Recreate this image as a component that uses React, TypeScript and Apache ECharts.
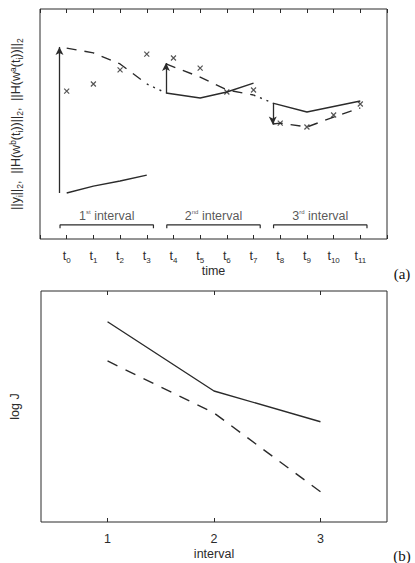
import React, { useEffect, useRef } from 'react';
import * as echarts from 'echarts';

// ---- panel (a) data ----
const timeTicks = [0, 1, 2, 3, 4, 5, 6, 7, 8, 9, 10, 11];
const observations = [6.43, 6.74, 7.35, 8.04, 7.87, 7.43, 6.39, 6.48, 5.04, 4.87, 5.39, 5.87];

const bg1X = [0, 1, 2, 3];
const bg1Y = [2.0, 2.3, 2.52, 2.78];
const an1X = [0, 1, 2, 3];
const an1Y = [8.3, 8.09, 7.61, 6.74];
const fc1X = [3, 3.72];
const fc1Y = [6.74, 6.35];
const bg2X = [3.72, 5, 6, 7];
const bg2Y = [6.35, 6.13, 6.39, 6.78];
const an2X = [3.72, 5, 6, 7];
const an2Y = [7.61, 7.04, 6.48, 6.26];
const fc2X = [7, 7.72];
const fc2Y = [6.26, 5.91];
const bg3X = [7.72, 9, 11];
const bg3Y = [5.91, 5.52, 6.0];
const an3X = [7.72, 8, 9, 10, 11];
const an3Y = [5.0, 5.04, 4.87, 5.3, 5.7];

const arrowX = [-0.27, 3.72, 7.72];
const arrowFrom = [2.0, 6.35, 5.91];
const arrowTo = [8.35, 7.65, 4.98];

const intervalStart = [-0.25, 3.75, 7.75];
const intervalEnd = [3.25, 7.25, 11.25];
const intervalNum = ['1', '2', '3'];
const intervalOrd = ['st', 'nd', 'rd'];
const bracketTop = 0.61;
const bracketFoot = 0.47;
const bracketLabelY = 0.98;

// ---- panel (b) data ----
const intervals = [1, 2, 3];
const logJSolid = [8.67, 5.67, 4.34];
const logJDashed = [6.97, 4.72, 1.31];

const INK = '#2b2b2b';
const FONT = 'Liberation Sans';

const zip = (xs: number[], ys: number[]) => xs.map((x, i) => [x, ys[i]]);

function lineSeries(xs: number[], ys: number[], type: any, grid = 0) {
  return {
    type: 'line',
    xAxisIndex: grid === 0 ? 0 : 2,
    yAxisIndex: grid,
    data: zip(xs, ys),
    symbol: 'none',
    silent: true,
    lineStyle: { color: INK, width: 1.4, type },
  };
}

export default function App() {
  const ref = useRef<HTMLDivElement>(null);
  useEffect(() => {
    const chart = echarts.init(ref.current!, null, { renderer: 'svg' });
    const dashed = [10, 8];
    const dotted = [2, 5];

    const series: any[] = [
      {
        ...lineSeries(bg1X, bg1Y, 'solid'),
        markLine: {
          silent: true,
          symbol: ['none', 'arrow'],
          symbolSize: [6, 8],
          label: { show: false },
          lineStyle: { color: INK, width: 1.3, type: 'solid' },
          data: arrowX.map((x, i) => [
            { coord: [x, arrowFrom[i]] },
            { coord: [x, arrowTo[i]] },
          ]),
        },
      },
      lineSeries(an1X, an1Y, dashed),
      lineSeries(fc1X, fc1Y, dotted),
      lineSeries(bg2X, bg2Y, 'solid'),
      lineSeries(an2X, an2Y, dashed),
      lineSeries(fc2X, fc2Y, dotted),
      lineSeries(bg3X, bg3Y, 'solid'),
      lineSeries(an3X, an3Y, dashed),
      {
        type: 'scatter',
        xAxisIndex: 0,
        yAxisIndex: 0,
        silent: true,
        data: zip(timeTicks, observations),
        symbol: 'path://M0,0L10,10M10,0L0,10',
        symbolSize: 5,
        itemStyle: { color: 'none', borderColor: INK, borderWidth: 1.2 },
      },
      ...intervalStart.map((s, i) => ({
        type: 'line',
        xAxisIndex: 0,
        yAxisIndex: 0,
        silent: true,
        symbol: 'none',
        data: [
          [s, bracketFoot],
          [s, bracketTop],
          [intervalEnd[i], bracketTop],
          [intervalEnd[i], bracketFoot],
        ],
        lineStyle: { color: INK, width: 1.2 },
      })),
      {
        type: 'scatter',
        xAxisIndex: 0,
        yAxisIndex: 0,
        silent: true,
        symbolSize: 0,
        data: intervalStart.map((s, i) => ({
          value: [(s + intervalEnd[i]) / 2, bracketLabelY],
          name: intervalNum[i] + '|' + intervalOrd[i],
        })),
        label: {
          show: true,
          position: 'inside',
          color: INK,
          fontFamily: FONT,
          fontSize: 12,
          lineHeight: 14,
          formatter: (p: any) => {
            const [n, o] = p.name.split('|');
            return `{n|${n}}{o|${o}}{n| interval}`;
          },
          rich: {
            n: { fontSize: 12.5, lineHeight: 14, fontFamily: FONT, color: INK },
            o: { fontSize: 6, lineHeight: 8, verticalAlign: 'top', fontFamily: FONT, color: INK },
          },
        },
      },
      lineSeries(intervals, logJSolid, 'solid', 1),
      lineSeries(intervals, logJDashed, [11, 9], 1),
    ];

    const tickStyle = { show: true, inside: true, length: 4, lineStyle: { color: INK, width: 1 } };

    chart.setOption({
      animation: false,
      textStyle: { fontFamily: FONT },
      grid: [
        { left: 37, top: 9, width: 350, height: 230, show: true, borderColor: INK, borderWidth: 1, backgroundColor: 'transparent' },
        { left: 37, top: 291, width: 350, height: 231, show: true, borderColor: INK, borderWidth: 1, backgroundColor: 'transparent' },
      ],
      xAxis: [
        {
          type: 'value',
          gridIndex: 0,
          position: 'bottom',
          min: -1,
          max: 12,
          interval: 1,
          axisLine: { show: false },
          axisTick: tickStyle,
          splitLine: { show: false },
          axisLabel: {
            margin: 9,
            color: INK,
            fontFamily: FONT,
            formatter: (v: number) => (v >= 0 && v <= 11 ? `{t|t}{s|${v}}` : ''),
            rich: {
              t: { fontSize: 12.5, lineHeight: 16, fontFamily: FONT, color: INK },
              s: { fontSize: 8, lineHeight: 9, verticalAlign: 'bottom', fontFamily: FONT, color: INK },
            },
          },
          name: 'time',
          nameLocation: 'middle',
          nameGap: 25,
          nameTextStyle: { fontSize: 12.5, color: INK, fontFamily: FONT },
        },
        {
          type: 'value',
          gridIndex: 0,
          position: 'top',
          min: -1,
          max: 12,
          interval: 1,
          axisLine: { show: false },
          axisTick: tickStyle,
          axisLabel: { show: false },
          splitLine: { show: false },
        },
        {
          type: 'value',
          gridIndex: 1,
          position: 'bottom',
          min: 0.375,
          max: 3.625,
          axisLine: { show: false },
          axisTick: { ...tickStyle, customValues: intervals },
          splitLine: { show: false },
          axisLabel: { customValues: intervals, margin: 10, fontSize: 12.5, color: INK, fontFamily: FONT },
          name: 'interval',
          nameLocation: 'middle',
          nameGap: 25,
          nameTextStyle: { fontSize: 12.5, color: INK, fontFamily: FONT },
        },
        {
          type: 'value',
          gridIndex: 1,
          position: 'top',
          min: 0.375,
          max: 3.625,
          axisLine: { show: false },
          axisTick: { ...tickStyle, customValues: intervals },
          axisLabel: { show: false },
          splitLine: { show: false },
        },
      ],
      yAxis: [
        {
          type: 'value',
          gridIndex: 0,
          min: 0,
          max: 10,
          axisLine: { show: false },
          axisTick: { show: false },
          axisLabel: { show: false },
          splitLine: { show: false },
          name: '||y{s|i}||{s|2},  ||H(w{p|b}(t{s|i}))||{s|2},  ||H(w{p|a}(t{s|i}))||{s|2}',
          nameLocation: 'middle',
          nameGap: 16,
          nameTextStyle: {
            fontSize: 12.5,
            color: INK,
            fontFamily: FONT,
            lineHeight: 16,
            rich: {
              s: { fontSize: 8.5, lineHeight: 9, verticalAlign: 'bottom', fontFamily: FONT, color: INK },
              p: { fontSize: 8.5, lineHeight: 9, verticalAlign: 'top', fontFamily: FONT, color: INK },
            },
          },
        },
        {
          type: 'value',
          gridIndex: 1,
          min: 0,
          max: 10,
          axisLine: { show: false },
          axisTick: { show: false },
          axisLabel: { show: false },
          splitLine: { show: false },
          name: 'log J',
          nameLocation: 'middle',
          nameGap: 20,
          nameTextStyle: { fontSize: 12.5, color: INK, fontFamily: FONT },
        },
      ],
      graphic: [
        {
          type: 'text',
          x: 402,
          y: 274,
          style: { text: '(a)', fontSize: 15, fontFamily: 'Liberation Serif', fill: '#111', align: 'center', verticalAlign: 'middle' },
        },
        {
          type: 'text',
          x: 402,
          y: 556,
          style: { text: '(b)', fontSize: 15, fontFamily: 'Liberation Serif', fill: '#111', align: 'center', verticalAlign: 'middle' },
        },
      ],
      series,
    });
    return () => chart.dispose();
  }, []);
  return <div ref={ref} style={{ position: 'fixed', left: 0, top: 0, width: 415, height: 563, background: '#fff' }} />;
}
